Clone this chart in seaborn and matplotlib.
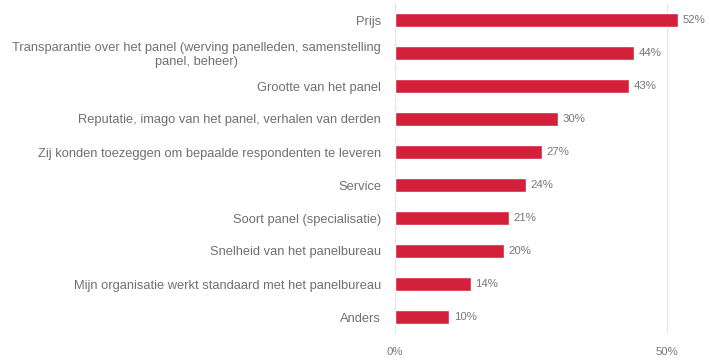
import matplotlib
matplotlib.use("Agg")
import matplotlib.pyplot as plt
import seaborn as sns
import pandas as pd

categories = [
    "Prijs",
    "Transparantie over het panel (werving panelleden, samenstelling\npanel, beheer)",
    "Grootte van het panel",
    "Reputatie, imago van het panel, verhalen van derden",
    "Zij konden toezeggen om bepaalde respondenten te leveren",
    "Service",
    "Soort panel (specialisatie)",
    "Snelheid van het panelbureau",
    "Mijn organisatie werkt standaard met het panelbureau",
    "Anders",
]
values = [52, 44, 43, 30, 27, 24, 21, 20, 14, 10]
xticks = [0, 50]
xtick_labels = ["0%", "50%"]

df = pd.DataFrame({"cat": categories, "val": values})

sns.set_theme(style="white")
plt.rcParams["font.family"] = ["Liberation Sans", "DejaVu Sans"]

fig = plt.figure(figsize=(7.1, 3.6), dpi=100)
ax = fig.add_axes([395 / 710, 1 - 333.5 / 360, 310 / 710, 330 / 360])

sns.barplot(data=df, x="val", y="cat", color="#d3213b", width=0.43,
            saturation=1, ax=ax, zorder=3)

ax.set_xlim(0, 310 / 5.44)
ax.set_ylim(9.5, -0.5)
ax.set_xticks(xticks)
ax.set_xticklabels(xtick_labels, fontsize=8.2, color="#777777")
ax.tick_params(axis="x", length=0, pad=10)
ax.tick_params(axis="y", length=0, pad=10)
ax.set_yticklabels(categories, fontsize=9.3, color="#707070", linespacing=1.12,
                   multialignment="center")
ax.set_xlabel("")
ax.set_ylabel("")
for s in ax.spines.values():
    s.set_visible(False)
ax.axvline(0, color="#c8cdd8", lw=0.8, ls=(0, (1, 1)), zorder=1)
ax.axvline(50, color="#e6e6e6", lw=0.8, zorder=1)

for i, v in enumerate(values):
    ax.text(v + 0.8, i, f"{v}%", va="center", ha="left", fontsize=8.2, color="#777777")

fig.savefig("out.png", dpi=100)
